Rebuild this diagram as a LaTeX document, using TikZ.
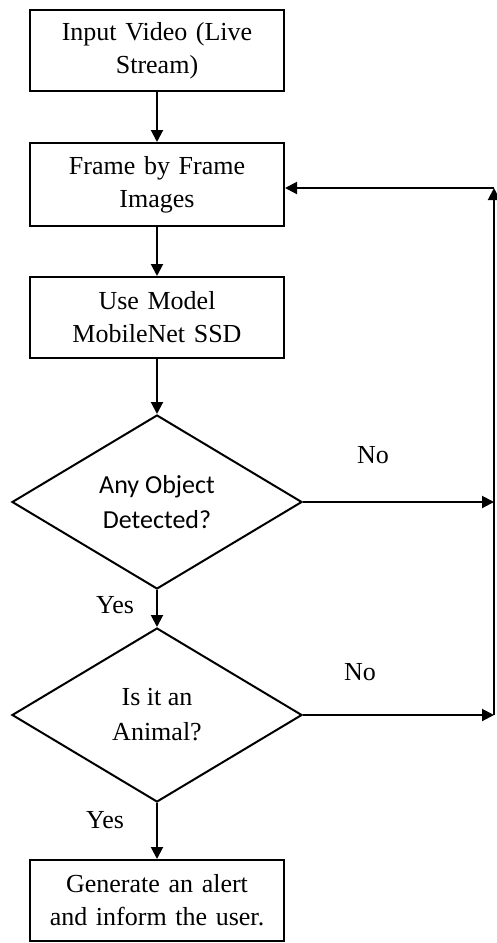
\documentclass[tikz,border=0pt]{standalone}
\usepackage{fontspec}
\setmainfont{Liberation Serif}
\newfontfamily\calfont{Carlito}
\usetikzlibrary{shapes.geometric,arrows.meta}
\begin{document}
\begin{tikzpicture}[x=1pt,y=-1pt,
  every node/.style={font=\fontsize{26}{33}\selectfont},
  procbox/.style={draw,line width=2pt,minimum width=254pt,minimum height=81pt,inner sep=0pt,align=center,text width=250pt},
  decide/.style={draw,line width=2pt,shape=diamond,aspect=1.66,minimum width=290pt,minimum height=174pt,inner sep=0pt,align=center,font=\fontsize{26}{35}\selectfont},
  arr/.style={line width=2pt,-{Triangle[length=12pt,width=12pt]}},
  lbl/.style={inner sep=0pt}]
\useasboundingbox (0,0) rectangle (497,943);
\node[procbox] (b1) at (157,50.5) {Input Video (Live\\Stream)};
\node[procbox,minimum height=83pt] (b2) at (157,184.5) {Frame by Frame\\Images};
\node[procbox] (b3) at (157,317.5) {Use Model\\MobileNet SSD};
\node[decide,font=\calfont\fontsize{26}{35}\selectfont] (d1) at (157,502) {Any Object\\Detected?};
\node[decide] (d2) at (157,715) {Is it an\\Animal?};
\node[procbox] (b4) at (157,900.5) {Generate an alert\\and inform the user.};
\coordinate (c1) at (494,502);
\coordinate (c2) at (494,715);
\coordinate (ctop) at (494,188);
\draw[arr] (b1) -- (b2);
\draw[arr] (b2) -- (b3);
\draw[arr] (b3) -- (d1.north);
\draw[arr] (d1.south) -- (d2.north);
\draw[arr] (d2.south) -- (b4.north);
\draw[arr] (d1.east) -- (c1);
\draw[arr] (d2.east) -- (c2);
\draw[arr] (c2) -- (ctop);
\draw[arr] (ctop) -- (ctop -| b2.east);
\node[lbl] (n1) at (373,455) {No};
\node[lbl] (n2) at (360,672) {No};
\node[lbl] (y1) at (115,605) {Yes};
\node[lbl] (y2) at (105,820) {Yes};
\end{tikzpicture}
\end{document}
